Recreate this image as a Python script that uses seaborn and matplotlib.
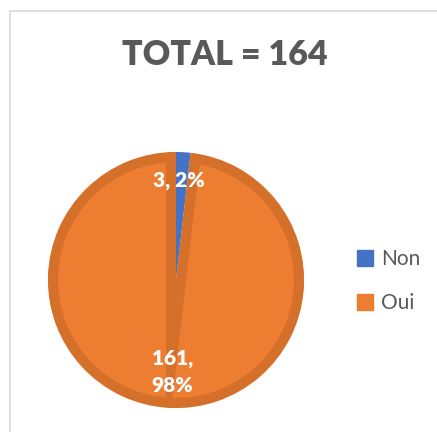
import matplotlib
matplotlib.use("Agg")
import matplotlib.pyplot as plt
from matplotlib.lines import Line2D
import seaborn as sns

categories = ["Non", "Oui"]
values = [3, 161]
labels = ["3, 2%", "161,\n98%"]
title = "TOTAL = 164"

sns.set_theme(style="white")
plt.rcParams['font.family'] = ['Lato', 'DejaVu Sans']

colors = ["#4472C4", "#ED7D31"]
edge_colors = ["none", "#D5702B"]

W, H = 437, 432
fig = plt.figure(figsize=(W / 100, H / 100), dpi=100)
fig.patch.set_facecolor("white")

# pie axes
cx, cy, r = 176, 280, 128
ax = fig.add_axes([(cx - r) / W, 1 - (cy + r) / H, 2 * r / W, 2 * r / H])
wedges, _ = ax.pie(values, colors=colors, startangle=90, counterclock=False,
                   radius=1.0, wedgeprops=dict(linewidth=0))
for w, ec in zip(wedges, edge_colors):
    if ec != "none":
        w.set_edgecolor(ec)
        w.set_linewidth(14.5)
        w.set_clip_on(True)
        w.set_clip_path(w)
ax.set_xlim(-1, 1)
ax.set_ylim(-1, 1)
ax.set_aspect("equal")
ax.axis("off")

label_pos = [(0.02, 0.78), (-0.03, -0.72)]
for (x, y), t in zip(label_pos, labels):
    ax.text(x, y, t, ha="center", va="center", color="white",
            fontsize=15, fontweight="heavy", linespacing=1.5)

fig.text(225 / W, 1 - 55 / H, title, ha="center", va="center",
         fontsize=24.5, fontweight="heavy", color="#595959")

# legend
handles = [plt.Rectangle((0, 0), 1, 1, color=c) for c in colors]
leg = fig.legend(handles, categories, loc="center left",
                 bbox_to_anchor=(338 / W, 1 - 281 / H), frameon=False,
                 fontsize=15, handlelength=0.8, handleheight=0.8,
                 handletextpad=0.35, labelspacing=1.15, labelcolor="#595959")

# chart-area border (top and left)
fig.add_artist(Line2D([9.5 / W, 1], [1 - 10.5 / H, 1 - 10.5 / H],
                      transform=fig.transFigure, color="#D9D9D9", lw=1.2))
fig.add_artist(Line2D([9.5 / W, 9.5 / W], [0, 1 - 10.5 / H],
                      transform=fig.transFigure, color="#D9D9D9", lw=1.2))

fig.savefig("out.png", dpi=100, facecolor="white")
